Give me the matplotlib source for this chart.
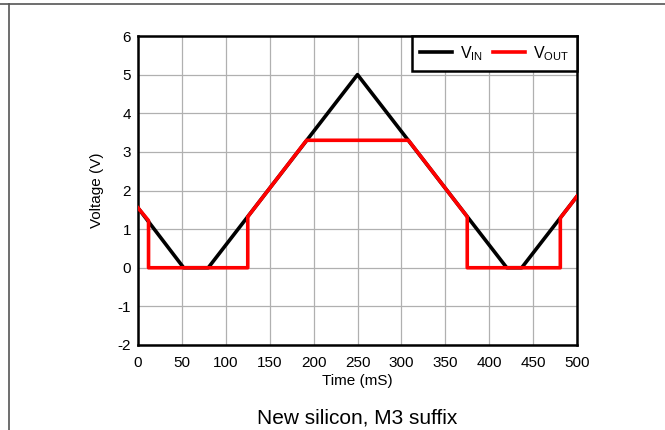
import matplotlib
matplotlib.use("Agg")
import matplotlib.pyplot as plt
from matplotlib.lines import Line2D

plt.rcParams['font.family'] = ['Liberation Sans', 'DejaVu Sans']
plt.rcParams['axes.unicode_minus'] = False

# breakpoints of the input triangle wave (ms, V)
vin_t = [0, 52, 80, 250, 420, 437, 500]
vin_v = [1.55, 0, 0, 5, 0, 0, 1.85]

# output: clamps at 3.3 V, drops to 0 below ~1.3 V
vout_t = [0, 12, 12, 125, 125, 192, 308, 375, 375, 481, 481, 500]
vout_v = [1.55, 1.22, 0, 0, 1.32, 3.3, 3.3, 1.32, 0, 0, 1.29, 1.85]

x_ticks = [0, 50, 100, 150, 200, 250, 300, 350, 400, 450, 500]
y_ticks = [-2, -1, 0, 1, 2, 3, 4, 5, 6]

fig = plt.figure(figsize=(6.65, 4.30), dpi=100)
ax = fig.add_axes([138/665, 85/430, 439/665, 309/430])

ax.plot(vin_t, vin_v, color='black', lw=2.6, label='V$_{\\mathregular{IN}}$', zorder=3)
ax.plot(vout_t, vout_v, color='#ff0000', lw=2.6, label='V$_{\\mathregular{OUT}}$', zorder=4)

ax.set_xlim(0, 500)
ax.set_ylim(-2, 6)
ax.set_xticks(x_ticks)
ax.set_yticks(y_ticks)
ax.tick_params(length=0, labelsize=11)
ax.tick_params(axis='x', pad=8)
ax.tick_params(axis='y', pad=5)
ax.grid(True, color='#b0b0b0', lw=0.9)
ax.set_axisbelow(True)
for s in ax.spines.values():
    s.set_linewidth(1.8)
    s.set_color('black')

ax.set_xlabel('Time (mS)', fontsize=11, labelpad=3)
ax.set_ylabel('Voltage (V)', fontsize=11, labelpad=10)

leg = ax.legend(loc='upper right', ncol=2, fontsize=11.5, frameon=True, fancybox=False,
                borderaxespad=0, handlelength=2.0, columnspacing=0.6, handletextpad=0.5,
                borderpad=0.5)
leg.get_frame().set_edgecolor('black')
leg.get_frame().set_linewidth(1.8)
leg.get_frame().set_alpha(1)

fig.text(0.5 * (138 + 577) / 665, 1 - 423/430, 'New silicon, M3 suffix',
         ha='center', va='baseline', fontsize=15)

# outer frame lines (top and left)
fig.add_artist(Line2D([0, 1], [1 - 4/430, 1 - 4/430], transform=fig.transFigure,
                      color='#555555', lw=1.2))
fig.add_artist(Line2D([8.5/665, 8.5/665], [0, 1 - 4/430], transform=fig.transFigure,
                      color='#555555', lw=1.2))

fig.savefig('out.png', dpi=100)
